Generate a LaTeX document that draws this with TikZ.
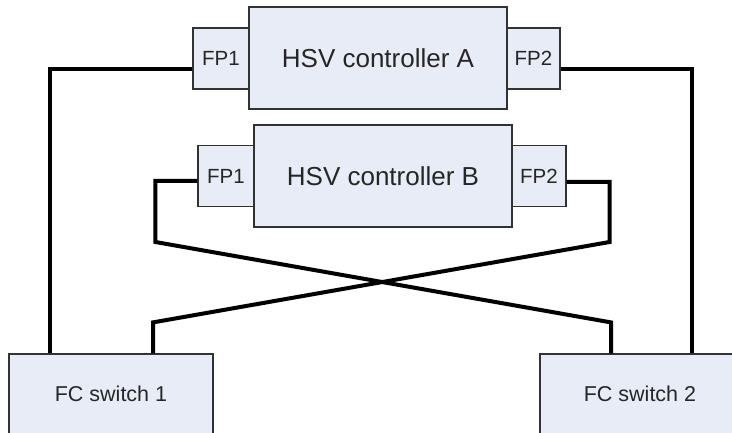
\documentclass[tikz,border=0pt]{standalone}
\usepackage{fontspec}
\setmainfont{Liberation Sans}
\usepackage{tikz}
\definecolor{boxfill}{RGB}{232,236,246}
\definecolor{boxline}{RGB}{50,50,50}

\begin{document}
\begin{tikzpicture}[x=1pt,y=-1pt,
  unit/.style={draw=boxline,line width=1.2pt,fill=boxfill,inner sep=0pt,text=black!85},
  ctrl/.style={unit,minimum width=258pt,minimum height=102pt,font=\fontsize{26}{28}\selectfont},
  port/.style={unit,minimum height=61pt,font=\fontsize{20.5}{22}\selectfont},
  switchbox/.style={unit,minimum height=80pt,font=\fontsize{21.5}{24}\selectfont},
  cable/.style={line width=4pt,black,line join=miter}]
  \useasboundingbox (0,0) rectangle (732,433);

  \draw (221,58.5) node[port,minimum width=56pt] (FPA1) {FP1} (533.5,58.5) node[port,minimum width=53pt] (FPA2) {FP2};
  \draw (378,58) node[ctrl] (CA) {HSV controller A};
  \draw (226,176) node[port,minimum width=56pt] (FPB1) {FP1} (539,176) node[port,minimum width=54pt] (FPB2) {FP2};
  \draw (383,176) node[ctrl] (CB) {HSV controller B};

  \draw (111,394) node[switchbox,minimum width=204pt] (SW1) {FC switch 1};
  \draw (640,394) node[switchbox,minimum width=200pt] (SW2) {FC switch 2};

  \draw[cable] ([yshift=-10.5pt]FPA1.west) -| ([xshift=-61pt]SW1.north);
  \draw[cable] ([yshift=-10.5pt]FPA2.east) -| ([xshift=52pt]SW2.north);
  \draw[cable] ([yshift=-5pt]FPB1.west) -- ++(-42,0) -- ++(0,61) -- ([xshift=-29pt,yshift=31pt]SW2.north) -- ([xshift=-29pt]SW2.north);
  \draw[cable] ([yshift=-6pt]FPB2.east) -- ++(43,0) -- ++(0,60) -- ([xshift=42pt,yshift=31pt]SW1.north) -- ([xshift=42pt]SW1.north);
\end{tikzpicture}
\end{document}
